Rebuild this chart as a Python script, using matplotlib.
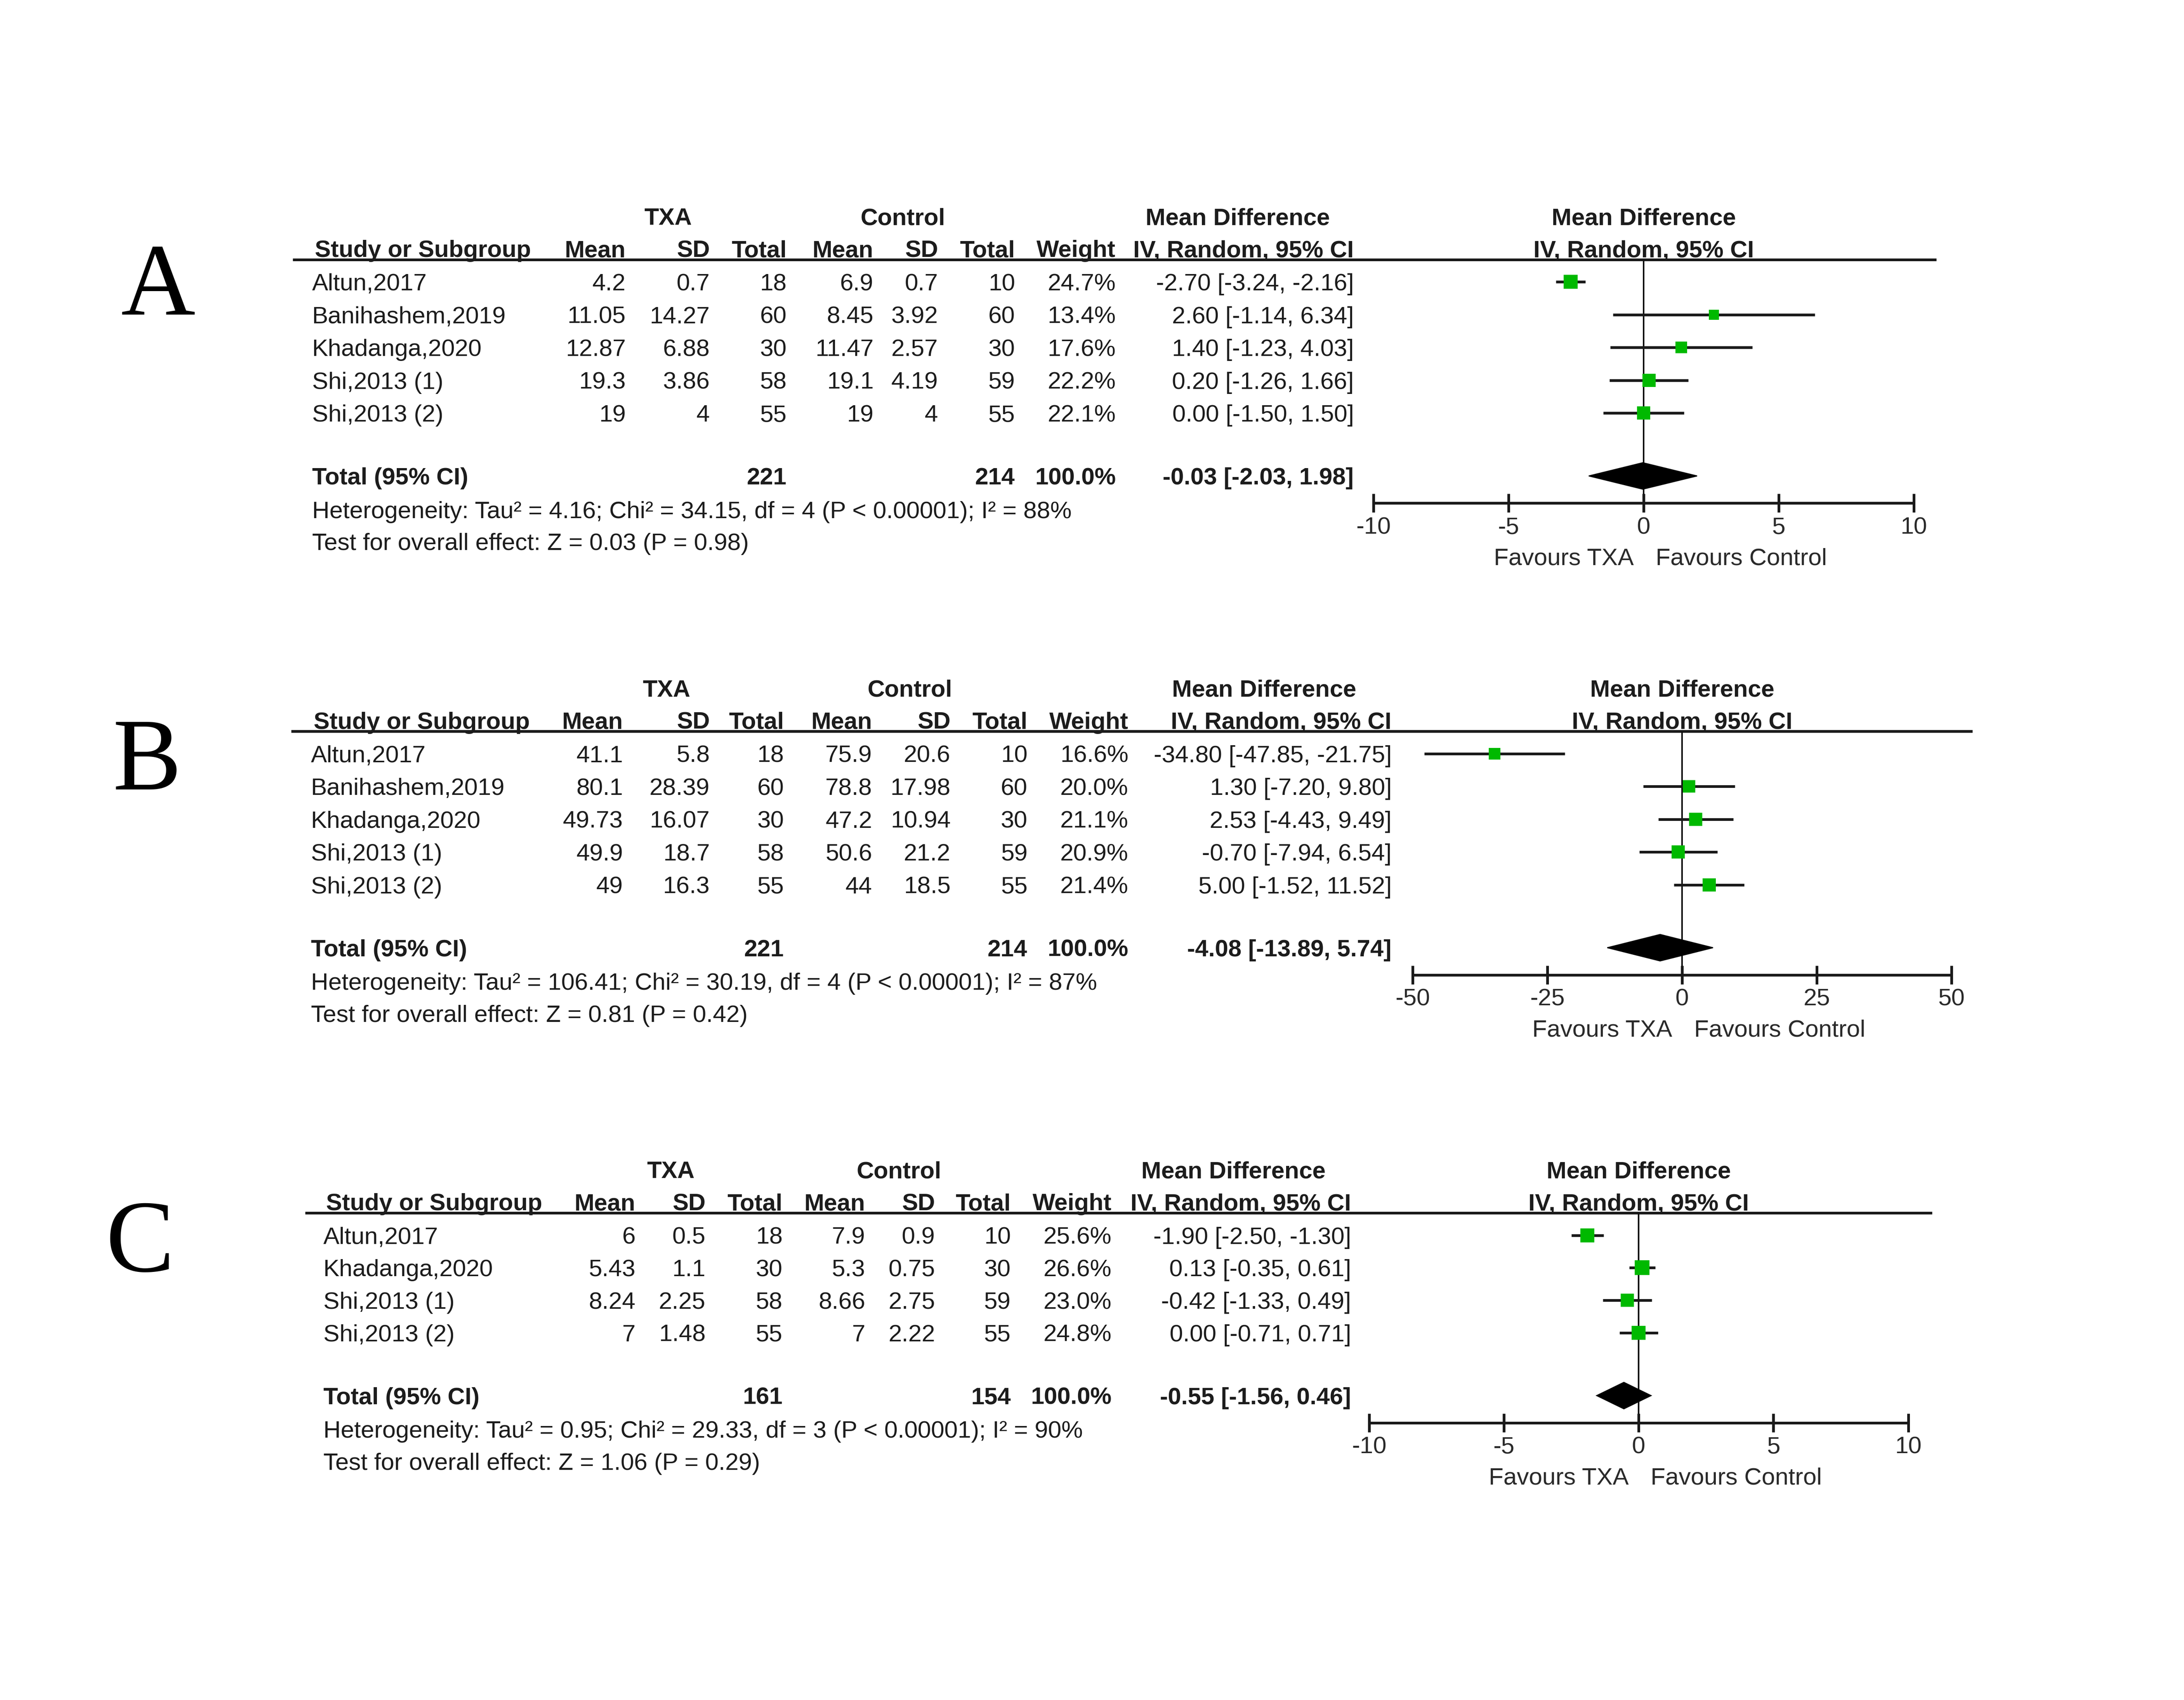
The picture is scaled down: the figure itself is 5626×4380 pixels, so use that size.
import numpy as np
import matplotlib
matplotlib.use('Agg')
import matplotlib.pyplot as plt
from matplotlib.patches import Polygon

plt.rcParams['font.family'] = ['Liberation Sans', 'DejaVu Sans']
plt.rcParams['axes.unicode_minus'] = False

# ---- data ----
# A
a_study = ["Altun,2017", "Banihashem,2019", "Khadanga,2020", "Shi,2013 (1)", "Shi,2013 (2)"]
a_txa_mean = [4.2, 11.05, 12.87, 19.3, 19]
a_txa_sd = [0.7, 14.27, 6.88, 3.86, 4]
a_txa_n = [18, 60, 30, 58, 55]
a_ctl_mean = [6.9, 8.45, 11.47, 19.1, 19]
a_ctl_sd = [0.7, 3.92, 2.57, 4.19, 4]
a_ctl_n = [10, 60, 30, 59, 55]
a_weight = [24.7, 13.4, 17.6, 22.2, 22.1]
a_md = [-2.70, 2.60, 1.40, 0.20, 0.00]
a_lo = [-3.24, -1.14, -1.23, -1.26, -1.50]
a_hi = [-2.16, 6.34, 4.03, 1.66, 1.50]
a_total = (-0.03, -2.03, 1.98)
a_het = "Heterogeneity: Tau² = 4.16; Chi² = 34.15, df = 4 (P < 0.00001); I² = 88%"
a_test = "Test for overall effect: Z = 0.03 (P = 0.98)"
a_ticks = [-10, -5, 0, 5, 10]

# B
b_study = ["Altun,2017", "Banihashem,2019", "Khadanga,2020", "Shi,2013 (1)", "Shi,2013 (2)"]
b_txa_mean = [41.1, 80.1, 49.73, 49.9, 49]
b_txa_sd = [5.8, 28.39, 16.07, 18.7, 16.3]
b_txa_n = [18, 60, 30, 58, 55]
b_ctl_mean = [75.9, 78.8, 47.2, 50.6, 44]
b_ctl_sd = [20.6, 17.98, 10.94, 21.2, 18.5]
b_ctl_n = [10, 60, 30, 59, 55]
b_weight = [16.6, 20.0, 21.1, 20.9, 21.4]
b_md = [-34.80, 1.30, 2.53, -0.70, 5.00]
b_lo = [-47.85, -7.20, -4.43, -7.94, -1.52]
b_hi = [-21.75, 9.80, 9.49, 6.54, 11.52]
b_total = (-4.08, -13.89, 5.74)
b_het = "Heterogeneity: Tau² = 106.41; Chi² = 30.19, df = 4 (P < 0.00001); I² = 87%"
b_test = "Test for overall effect: Z = 0.81 (P = 0.42)"
b_ticks = [-50, -25, 0, 25, 50]

# C
c_study = ["Altun,2017", "Khadanga,2020", "Shi,2013 (1)", "Shi,2013 (2)"]
c_txa_mean = [6, 5.43, 8.24, 7]
c_txa_sd = [0.5, 1.1, 2.25, 1.48]
c_txa_n = [18, 30, 58, 55]
c_ctl_mean = [7.9, 5.3, 8.66, 7]
c_ctl_sd = [0.9, 0.75, 2.75, 2.22]
c_ctl_n = [10, 30, 59, 55]
c_weight = [25.6, 26.6, 23.0, 24.8]
c_md = [-1.90, 0.13, -0.42, 0.00]
c_lo = [-2.50, -0.35, -1.33, -0.71]
c_hi = [-1.30, 0.61, 0.49, 0.71]
c_total = (-0.55, -1.56, 0.46)
c_het = "Heterogeneity: Tau² = 0.95; Chi² = 29.33, df = 3 (P < 0.00001); I² = 90%"
c_test = "Test for overall effect: Z = 1.06 (P = 0.29)"
c_ticks = [-10, -5, 0, 5, 10]

panels = [
    dict(label="A", study=a_study, tm=a_txa_mean, ts=a_txa_sd, tn=a_txa_n,
         cm=a_ctl_mean, cs=a_ctl_sd, cn=a_ctl_n, w=a_weight, md=a_md, lo=a_lo, hi=a_hi,
         total=a_total, het=a_het, test=a_test, ticks=a_ticks,
         # layout in reference pixels
         let=(113, 200), y0=202, step=23.5, left=223, line=(209, 1383),
         cols=[447, 507, 562, 624, 670, 725, 797, 967], hdr=(477, 645, 884), fx=(981, 1367)),
    dict(label="B", study=b_study, tm=b_txa_mean, ts=b_txa_sd, tn=b_txa_n,
         cm=b_ctl_mean, cs=b_ctl_sd, cn=b_ctl_n, w=b_weight, md=b_md, lo=b_lo, hi=b_hi,
         total=b_total, het=b_het, test=b_test, ticks=b_ticks,
         let=(105, 540), y0=540, step=23.5, left=222, line=(208, 1409),
         cols=[445, 507, 560, 623, 679, 734, 806, 994], hdr=(476, 650, 903), fx=(1009, 1394)),
    dict(label="C", study=c_study, tm=c_txa_mean, ts=c_txa_sd, tn=c_txa_n,
         cm=c_ctl_mean, cs=c_ctl_sd, cn=c_ctl_n, w=c_weight, md=c_md, lo=c_lo, hi=c_hi,
         total=c_total, het=c_het, test=c_test, ticks=c_ticks,
         let=(100, 885), y0=885, step=23.3, left=231, line=(218, 1380),
         cols=[454, 504, 559, 618, 668, 722, 794, 965], hdr=(479, 642, 881), fx=(978, 1363)),
]

W, H = 1560, 1218
TXT = '#1c1c1c'
GRAY = '#2a2a2a'
GREEN = '#00b900'
FS = 12.4
FSB = 12.3

fig = plt.figure(figsize=(5626 / 360, 4380 / 360), dpi=360)
ov = fig.add_axes([0, 0, 1, 1])
ov.set_xlim(0, W)
ov.set_ylim(H, 0)
ov.axis('off')


def txt(x, y, s, ha='left', bold=False, color=TXT, size=None):
    ov.text(x, y, s, ha=ha, va='center_baseline', color=color,
            fontsize=size or (FSB if bold else FS),
            fontweight='bold' if bold else 'normal')


for p in panels:
    n = len(p['study'])
    y_rows = p['y0'] + np.arange(n) * p['step']
    y_tot = y_rows[-1] + 45
    y_het = y_tot + 24
    y_test = y_het + 23
    y_axis = y_tot + 19.5
    y_line = p['y0'] - 16
    y_h2 = p['y0'] - 24
    y_h1 = p['y0'] - 47
    c = p['cols']
    x_lo, x_hi = p['fx']
    x0 = (x_lo + x_hi) / 2

    # panel letter
    ov.text(p['let'][0], p['let'][1], p['label'], family='Liberation Serif',
            fontsize=53, ha='center', va='center_baseline', color='black')

    # headers
    txt(p['hdr'][0], y_h1, "TXA", ha='center', bold=True)
    txt(p['hdr'][1], y_h1, "Control", ha='center', bold=True)
    txt(p['hdr'][2], y_h1, "Mean Difference", ha='center', bold=True)
    txt(x0, y_h1, "Mean Difference", ha='center', bold=True)
    txt(p['left'] + 2, y_h2, "Study or Subgroup", bold=True)
    for xr, s in zip(c, ["Mean", "SD", "Total", "Mean", "SD", "Total", "Weight",
                         "IV, Random, 95% CI"]):
        txt(xr, y_h2, s, ha='right', bold=True)
    txt(x0, y_h2, "IV, Random, 95% CI", ha='center', bold=True)
    ov.plot(p['line'], [y_line, y_line], color='#1a1a1a', lw=1.4, solid_capstyle='butt')

    # study rows
    for i in range(n):
        y = y_rows[i]
        txt(p['left'], y, p['study'][i])
        vals = [f"{p['tm'][i]:g}", f"{p['ts'][i]:g}", f"{p['tn'][i]}",
                f"{p['cm'][i]:g}", f"{p['cs'][i]:g}", f"{p['cn'][i]}",
                f"{p['w'][i]:.1f}%",
                f"{p['md'][i]:.2f} [{p['lo'][i]:.2f}, {p['hi'][i]:.2f}]"]
        for xr, s in zip(c, vals):
            txt(xr, y, s, ha='right')

    # total row
    tmd, tlo, thi = p['total']
    txt(p['left'], y_tot, "Total (95% CI)", bold=True)
    txt(c[2], y_tot, f"{sum(p['tn'])}", ha='right', bold=True)
    txt(c[5], y_tot, f"{sum(p['cn'])}", ha='right', bold=True)
    txt(c[6], y_tot, "100.0%", ha='right', bold=True)
    txt(c[7], y_tot, f"{tmd:.2f} [{tlo:.2f}, {thi:.2f}]", ha='right', bold=True)
    txt(p['left'], y_het, p['het'])
    txt(p['left'], y_test, p['test'])

    # forest plot
    L = p['ticks'][-1]
    ax = fig.add_axes([x_lo / W, 1 - y_axis / H, (x_hi - x_lo) / W, (y_axis - y_line) / H])
    ax.set_xlim(-L, L)
    ax.set_ylim(y_axis, y_line)
    ax.patch.set_alpha(0)
    for s in ['top', 'left', 'right']:
        ax.spines[s].set_visible(False)
    ax.spines['bottom'].set_linewidth(1.4)
    ax.spines['bottom'].set_color('#1a1a1a')
    ax.set_yticks([])
    ax.set_xticks(p['ticks'])
    ax.set_xticklabels([f"{t:g}" for t in p['ticks']])
    ax.tick_params(axis='x', direction='inout', length=9.5, width=1.4, pad=2.2,
                   labelsize=FS, labelcolor=GRAY, color='#1a1a1a')
    ax.axvline(0, color='#111111', lw=0.8, zorder=1)
    ax.hlines(y_rows, p['lo'], p['hi'], color='#1a1a1a', lw=1.4, zorder=2)
    for i in range(n):
        ax.plot(p['md'][i], y_rows[i], 's', ms=1.45 * np.sqrt(p['w'][i]),
                color=GREEN, mew=0, zorder=3)
    ax.add_patch(Polygon([[tlo, y_tot], [tmd, y_tot - 9.5], [thi, y_tot], [tmd, y_tot + 9.5]],
                         closed=True, fc='black', ec='black', lw=0.5, zorder=4))

    txt(x0 - 7, y_axis + 38, "Favours TXA", ha='right', color=GRAY)
    txt(x0 + 8.5, y_axis + 38, "Favours Control", ha='left', color=GRAY)

fig.savefig('out.png', dpi=360, facecolor='white')
